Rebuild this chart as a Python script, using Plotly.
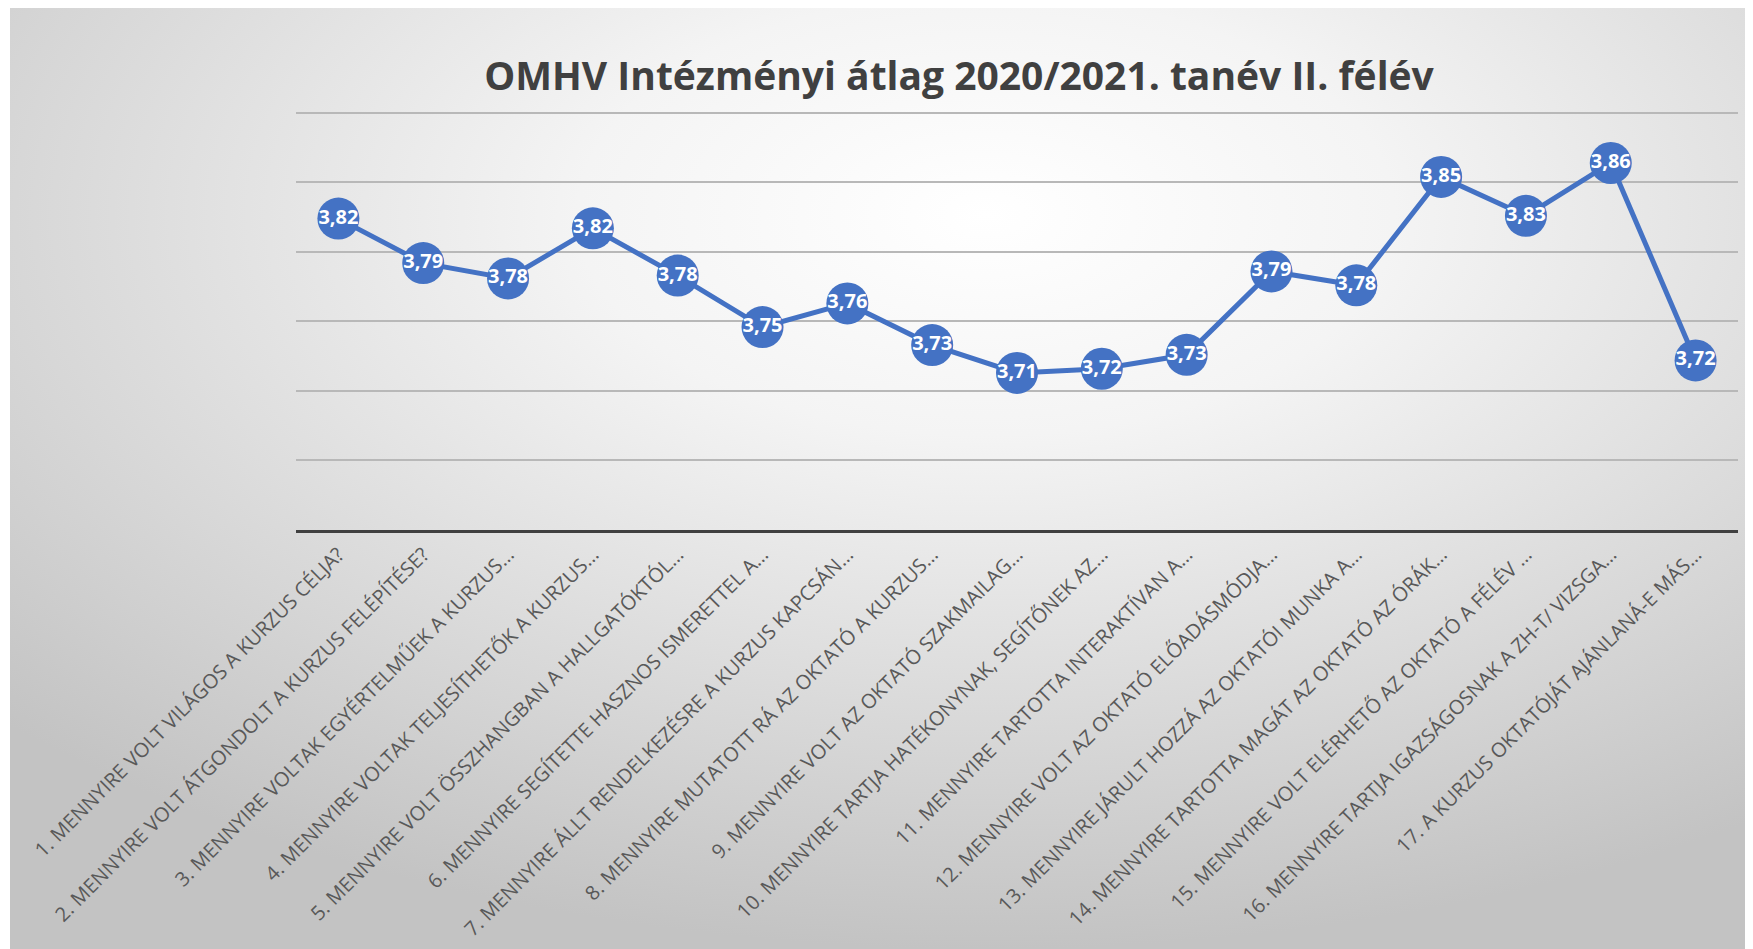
import base64
import plotly.graph_objects as go

# ---- data ----
categories = [
    "1. MENNYIRE VOLT VILÁGOS A KURZUS CÉLJA?",
    "2. MENNYIRE VOLT ÁTGONDOLT A KURZUS FELÉPÍTÉSE?",
    "3. MENNYIRE VOLTAK EGYÉRTELMŰEK A KURZUS…",
    "4. MENNYIRE VOLTAK TELJESÍTHETŐK A KURZUS…",
    "5. MENNYIRE VOLT ÖSSZHANGBAN A HALLGATÓKTÓL…",
    "6. MENNYIRE SEGÍTETTE HASZNOS ISMERETTEL A…",
    "7. MENNYIRE ÁLLT RENDELKEZÉSRE A KURZUS KAPCSÁN…",
    "8. MENNYIRE MUTATOTT RÁ AZ OKTATÓ A KURZUS…",
    "9. MENNYIRE VOLT AZ OKTATÓ SZAKMAILAG…",
    "10. MENNYIRE TARTJA HATÉKONYNAK, SEGÍTŐNEK AZ…",
    "11. MENNYIRE TARTOTTA INTERAKTÍVAN A…",
    "12. MENNYIRE VOLT AZ OKTATÓ ELŐADÁSMÓDJA…",
    "13. MENNYIRE JÁRULT HOZZÁ AZ OKTATÓI MUNKA A…",
    "14. MENNYIRE TARTOTTA MAGÁT AZ OKTATÓ AZ ÓRÁK…",
    "15. MENNYIRE VOLT ELÉRHETŐ AZ OKTATÓ A FÉLÉV …",
    "16. MENNYIRE TARTJA IGAZSÁGOSNAK A ZH-T/ VIZSGA…",
    "17. A KURZUS OKTATÓJÁT AJÁNLANÁ-E MÁS…",
]
values = [3.824, 3.792, 3.781, 3.817, 3.783, 3.746, 3.763, 3.733, 3.713,
          3.716, 3.726, 3.786, 3.776, 3.854, 3.826, 3.864, 3.722]
title_text = "OMHV Intézményi átlag 2020/2021. tanév II. félév"

# ---- layout geometry (figure sits 8px inside the page because of body margin) ----
W, H = 1745, 941
ML, MR, MT, MB = 288, 15, 98, 419
PW, PH = W - ML - MR, H - MT - MB

# background radial gradient (Excel-like chart area fill)
svg = f"""<svg xmlns='http://www.w3.org/2000/svg' width='{W}' height='{H}' viewBox='0 0 {W} {H}' preserveAspectRatio='none'>
<defs><radialGradient id='g' cx='0.56' cy='0.22' r='0.78'>
<stop offset='0' stop-color='#ffffff'/>
<stop offset='0.3' stop-color='#f4f4f4'/>
<stop offset='1' stop-color='#c3c3c3'/>
</radialGradient></defs>
<rect x='2' y='0' width='{W-2}' height='{H}' fill='url(#g)'/>
</svg>"""
bg_src = "data:image/svg+xml;base64," + base64.b64encode(svg.encode("utf-8")).decode("ascii")

fig = go.Figure()
fig.add_trace(go.Scatter(
    x=categories,
    y=values,
    mode="lines+markers+text",
    line=dict(color="#4472C4", width=5),
    marker=dict(color="#4472C4", size=42, line=dict(width=0)),
    texttemplate="%{y:.2f}",
    textposition="middle center",
    textfont=dict(family="Open Sans", size=20, color="#ffffff", weight="bold"),
    cliponaxis=False,
    hoverinfo="x+y",
    showlegend=False,
))

fig.update_layout(
    width=W, height=H,
    margin=dict(l=ML, r=MR, t=MT, b=MB, autoexpand=False),
    paper_bgcolor="#ffffff",
    plot_bgcolor="rgba(0,0,0,0)",
    separators=",.",
    title=dict(
        text=title_text,
        font=dict(family="Open Sans", size=39, color="#404040", weight="bold"),
        xref="container", yref="container",
        x=951 / W, y=1 - 68 / H,
        xanchor="center", yanchor="middle",
    ),
    images=[dict(
        source=bg_src, xref="paper", yref="paper",
        x=-ML / PW, y=1 + MT / PH, sizex=W / PW, sizey=H / PH,
        xanchor="left", yanchor="top", sizing="stretch", layer="below",
    )],
    xaxis=dict(
        type="category",
        range=[-0.5, len(categories) - 0.5],
        tickangle=-45,
        tickfont=dict(family="Open Sans", size=20, color="#595959"),
        showgrid=False,
        showline=True, linecolor="#404040", linewidth=3,
        ticks="", ticklabelstandoff=2,
        automargin=False,
        zeroline=False,
    ),
    yaxis=dict(
        range=[3.6, 3.905],
        dtick=0.05, tick0=3.6,
        showticklabels=False,
        showgrid=True, gridcolor="#b8b8b8", gridwidth=1.5,
        zeroline=False,
        showline=False,
        automargin=False,
    ),
)

fig.write_html("out.html")
